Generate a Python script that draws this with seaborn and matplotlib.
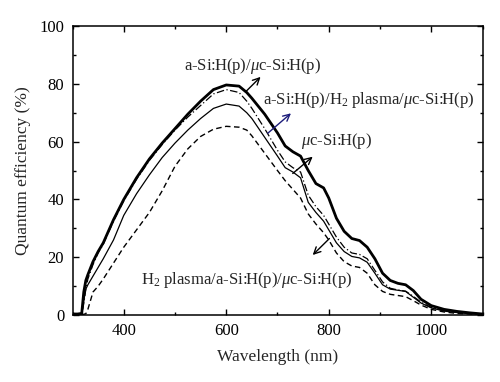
import matplotlib
matplotlib.use("Agg")
import matplotlib.pyplot as plt
import seaborn as sns
from matplotlib.ticker import MultipleLocator

wavelength = [300, 310, 318, 322, 326, 330, 340, 350, 360, 380,
              400, 425, 450, 475, 500, 525, 550, 575, 600, 625,
              640, 650, 675, 700, 715, 730, 745, 760, 775, 790,
              800, 815, 830, 845, 860, 875, 890, 905, 920, 935,
              950, 965, 980, 1000, 1025, 1050, 1075, 1100]

qe_asi_muc = [0.4, 0.4, 0.6, 8, 12, 14, 18.5, 22, 25, 33,
              40, 47.5, 54, 59.5, 64.5, 69.5, 74, 78, 79.6, 79.2,
              77, 75, 69.5, 63, 58.5, 56.5, 55, 50, 45.5, 44,
              40.5, 33.5, 29, 26.5, 25.8, 23.5, 19.5, 14.5, 12, 11,
              10.5, 8.5, 5.5, 3.3, 2.0, 1.3, 0.8, 0.4]

qe_asi_h2_muc = [0.3, 0.3, 0.4, 4, 9, 12.5, 17.5, 21.5, 24.5, 32.5,
                 39.5, 47, 53.5, 59, 64, 68.5, 72.5, 76.5, 78, 77,
                 74, 71.5, 64.5, 57, 53, 51, 49.5, 41.5, 37.5, 34.5,
                 31.5, 27, 23.5, 21.5, 21, 19.5, 15.5, 11.5, 9.3, 8.7,
                 8.3, 6.5, 4.5, 2.7, 1.6, 1.0, 0.6, 0.3]

qe_muc = [0.3, 0.3, 0.4, 5, 9, 10.5, 13.5, 16.5, 19.5, 26,
          34.5, 42, 48.5, 54.5, 59.5, 64, 68, 71.5, 73, 72.3,
          70, 68, 61.5, 55, 51, 49.5, 47.5, 39, 35.5, 32.5,
          29.5, 25, 22, 20.3, 19.8, 18.3, 14.5, 10.5, 9, 8.6,
          8.2, 6.2, 4.2, 2.5, 1.4, 0.9, 0.5, 0.3]

qe_h2_asi_muc = [0.2, 0.2, 0.2, 0.3, 0.5, 2, 8, 10, 12.5, 18,
                 23.5, 29.5, 35.5, 43, 51.5, 57.5, 61.8, 64.3, 65.3, 65,
                 64, 62, 56, 50, 46.5, 43.5, 40.5, 35, 31.5, 28.5,
                 26, 21.5, 18.5, 17, 16.5, 14.5, 10.5, 8.2, 7.2, 6.8,
                 6.4, 5, 3.5, 2, 1.1, 0.6, 0.4, 0.2]

x_ticks = [400, 600, 800, 1000]
y_ticks = [0, 20, 40, 60, 80, 100]

sns.set_theme(style="ticks")
plt.rcParams["font.family"] = ["Liberation Serif", "DejaVu Serif"]
plt.rcParams["mathtext.fontset"] = "custom"
plt.rcParams["mathtext.rm"] = "Liberation Serif"
plt.rcParams["mathtext.it"] = "Liberation Serif:italic"

fig = plt.figure(figsize=(5.0, 3.82), dpi=100)
ax = fig.add_axes([0.145, 0.175, 0.82, 0.757])

sns.lineplot(x=wavelength, y=qe_h2_asi_muc, ax=ax, color="black", lw=1.0,
             linestyle=(0, (4, 2.5)))
sns.lineplot(x=wavelength, y=qe_muc, ax=ax, color="black", lw=0.9)
sns.lineplot(x=wavelength, y=qe_asi_h2_muc, ax=ax, color="black", lw=0.9,
             linestyle=(0, (6, 2, 1, 2)))
sns.lineplot(x=wavelength, y=qe_asi_muc, ax=ax, color="black", lw=2.0)

ax.set_xlim(300, 1100)
ax.set_ylim(0, 100)
ax.set_xticks(x_ticks)
ax.set_yticks(y_ticks)
ax.xaxis.set_minor_locator(MultipleLocator(100))
ax.yaxis.set_minor_locator(MultipleLocator(10))
ax.tick_params(which="both", direction="in", top=True, right=True,
               labelsize=12, colors="black", width=1.0)
ax.tick_params(which="major", length=4.5, pad=6)
ax.tick_params(which="minor", length=2.5)
for s in ax.spines.values():
    s.set_linewidth(1.1)
    s.set_color("black")

ax.set_xlabel("Wavelength (nm)", fontsize=12.5, labelpad=7)
ax.set_ylabel("Quantum efficiency (%)", fontsize=12.5, labelpad=6)

fs = 12
ax.text(651, 86.2, r"a-Si:H(p)/$\mu$c-Si:H(p)", fontsize=fs, ha="center", va="center")
ax.text(671, 74.4, r"a-Si:H(p)/H$_2$ plasma/$\mu$c-Si:H(p)", fontsize=fs, ha="left", va="center")
ax.text(746, 60.2, r"$\mu$c-Si:H(p)", fontsize=fs, ha="left", va="center")
ax.text(434, 12.1, r"H$_2$ plasma/a-Si:H(p)/$\mu$c-Si:H(p)", fontsize=fs, ha="left", va="center")

arrow_kw = dict(arrowstyle="->", lw=1.0, mutation_scale=12, shrinkA=0, shrinkB=0)
ax.annotate("", xy=(667, 82.4), xytext=(637.6, 77.2),
            arrowprops=dict(color="black", **arrow_kw))
ax.annotate("", xy=(726.3, 69.8), xytext=(681, 62.9),
            arrowprops=dict(color="#1c1c7a", **arrow_kw))
ax.annotate("", xy=(768.7, 54.8), xytext=(729.8, 49.0),
            arrowprops=dict(color="black", **arrow_kw))
ax.annotate("", xy=(768.7, 20.8), xytext=(801.3, 26.5),
            arrowprops=dict(color="black", **arrow_kw))

fig.savefig("out.png", dpi=100)
